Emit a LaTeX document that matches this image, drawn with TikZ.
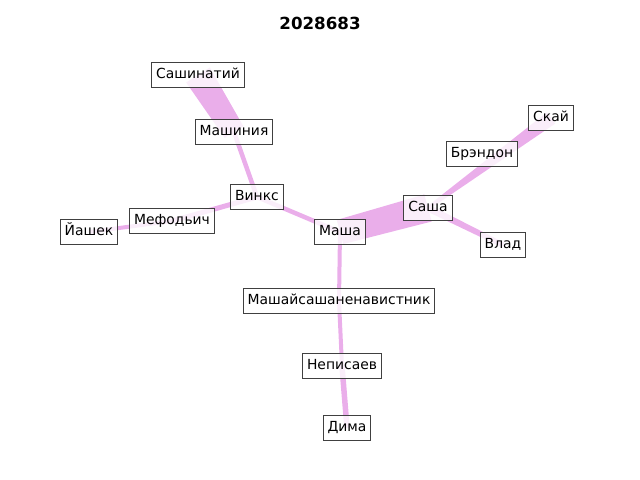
\documentclass[tikz,border=0pt]{standalone}
\usepackage{fontspec}
\setmainfont{DejaVu Sans}
\usetikzlibrary{calc}
\definecolor{edgecol}{RGB}{234,174,234}
\definecolor{boxline}{RGB}{64,64,64}
\pgfdeclarelayer{bg}
\pgfsetlayers{bg,main}
\newcommand\taper[4]{%
  \fill[edgecol] ($(#1)!#3*0.36pt!90:(#2)$) -- ($(#2)!#4*0.36pt!-90:(#1)$)
     -- ($(#2)!#4*0.36pt!90:(#1)$) -- ($(#1)!#3*0.36pt!-90:(#2)$) -- cycle;}
\tikzset{
  lbl/.style={draw=boxline, line width=0.75pt, fill=white, fill opacity=0.8, text opacity=1,
    font=\fontsize{10}{12}\selectfont, inner xsep=3.2pt, inner ysep=4.1pt,
    text height=7.6pt, text depth=2.2pt},
  ttl/.style={font=\fontsize{12}{14}\selectfont\bfseries}
}
\begin{document}
\begin{tikzpicture}[x=0.72pt,y=-0.72pt]
\useasboundingbox (0,0) rectangle (640,480);
\node[ttl] (title) at (320,23) {2028683};
\node[lbl] (sashinatiy) at (198,75) {Сашинатий};
\node[lbl] (mashiniya) at (234,132) {Машиния};
\node[lbl] (vinks) at (257,197) {Винкс};
\node[lbl] (mefodich) at (172,221) {Мефодьич};
\node[lbl] (yashek) at (89,232) {Йашек};
\node[lbl] (masha) at (340,232) {Маша};
\node[lbl] (sasha) at (428,208) {Саша};
\node[lbl] (brendon) at (482,154) {Брэндон};
\node[lbl] (skay) at (551,118) {Скай};
\node[lbl] (vlad) at (503,245) {Влад};
\node[lbl] (mnen) at (339,301) {Машайсашаненавистник};
\node[lbl] (nepisaev) at (342,366) {Неписаев};
\node[lbl] (dima) at (347,428) {Дима};
\begin{pgfonlayer}{bg}
\taper{sashinatiy.center}{mashiniya.center}{28}{22}
\taper{mashiniya.center}{vinks.center}{4.5}{4.5}
\taper{vinks.center}{mefodich.center}{5}{5}
\taper{mefodich.center}{yashek.center}{4}{4}
\taper{vinks.center}{masha.center}{4.5}{4.5}
\taper{masha.center}{sasha.center}{25}{28}
\taper{sasha.center}{skay.center}{3.5}{14}
\taper{sasha.center}{vlad.center}{7}{5}
\taper{masha.center}{mnen.center}{4}{4}
\taper{mnen.center}{nepisaev.center}{4}{4}
\taper{nepisaev.center}{dima.center}{5.5}{5.5}
\end{pgfonlayer}
\end{tikzpicture}
\end{document}
